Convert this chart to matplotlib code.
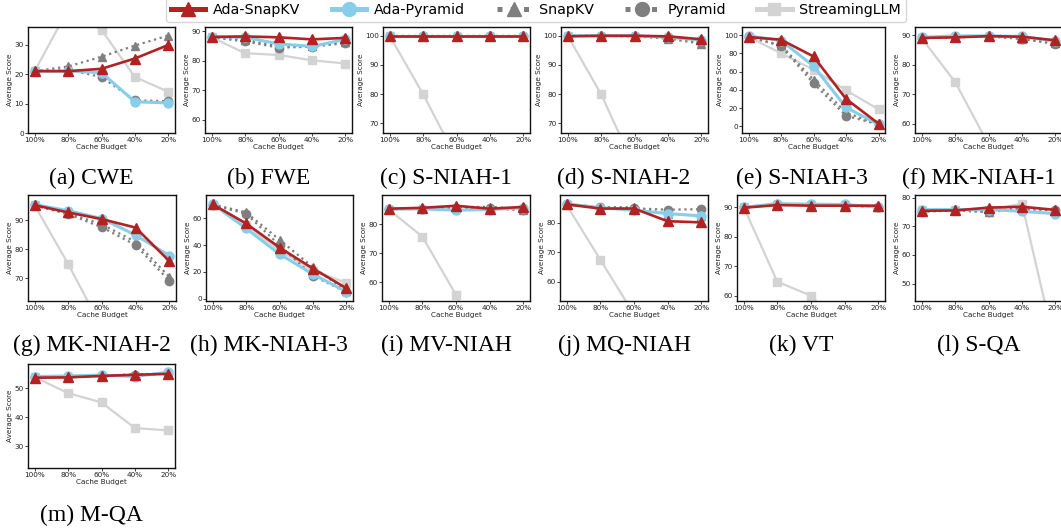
import matplotlib
matplotlib.use("Agg")
import matplotlib.pyplot as plt
from matplotlib.lines import Line2D

# cache budgets on the x axis
budgets = ["100%", "80%", "60%", "40%", "20%"]
tasks = ["(a) CWE", "(b) FWE", "(c) S-NIAH-1", "(d) S-NIAH-2", "(e) S-NIAH-3",
         "(f) MK-NIAH-1", "(g) MK-NIAH-2", "(h) MK-NIAH-3", "(i) MV-NIAH",
         "(j) MQ-NIAH", "(k) VT", "(l) S-QA", "(m) M-QA"]

# average score per task (rows follow `tasks`)
ada_snapkv = [
    [21.0, 21.0, 21.8, 25.3, 29.9],
    [88.1, 88.3, 88.0, 87.3, 87.8],
    [100, 100, 100, 100, 100],
    [99.8, 100, 100, 99.8, 98.8],
    [97.8, 94.9, 76.5, 30.0, 2.9],
    [89.1, 89.3, 89.7, 89.5, 88.3],
    [95.1, 92.6, 90.3, 87.4, 75.9],
    [70.5, 56.2, 38.2, 22.5, 7.8],
    [85.3, 85.6, 86.3, 85.3, 85.9],
    [86.3, 84.9, 84.9, 80.6, 80.2],
    [89.8, 90.7, 90.5, 90.5, 90.5],
    [75.4, 75.5, 76.5, 76.8, 75.7],
    [53.6, 53.7, 54.2, 54.6, 54.9],
]
ada_pyramid = [
    [21.0, 21.0, 20.5, 10.6, 10.2],
    [88.2, 88.0, 85.8, 84.9, 87.3],
    [100, 100, 100, 100, 100],
    [100, 100, 100, 99.5, 98.5],
    [99.0, 94.0, 66.0, 20.6, 2.0],
    [89.3, 89.8, 89.8, 89.6, 88.0],
    [95.3, 93.2, 90.5, 84.8, 77.8],
    [70.8, 52.5, 33.3, 18.3, 5.2],
    [85.2, 85.2, 84.8, 85.0, 85.6],
    [86.5, 85.2, 84.3, 83.2, 82.4],
    [89.9, 91.2, 91.0, 90.9, 90.0],
    [75.8, 75.8, 75.8, 75.2, 74.4],
    [54.0, 54.2, 54.5, 54.0, 55.5],
]
snapkv = [
    [21.0, 22.6, 25.9, 29.7, 33.1],
    [88.0, 87.2, 85.0, 85.0, 86.5],
    [100, 100, 100, 100, 100],
    [100, 100, 99.8, 99.0, 97.3],
    [98.0, 89.0, 51.0, 15.0, 2.0],
    [89.1, 89.3, 89.7, 88.8, 87.5],
    [95.0, 92.3, 88.5, 82.5, 70.5],
    [70.5, 64.5, 44.0, 23.5, 6.0],
    [85.2, 85.5, 85.7, 86.0, 85.0],
    [86.3, 85.3, 85.3, 83.0, 82.5],
    [90.0, 91.0, 90.8, 90.7, 90.0],
    [75.5, 75.5, 75.0, 76.5, 75.5],
    [53.8, 54.0, 54.2, 54.8, 55.0],
]
pyramid = [
    [21.0, 21.5, 19.0, 11.1, 10.8],
    [88.0, 86.6, 84.5, 84.8, 86.0],
    [100, 100, 100, 100, 100],
    [100, 100, 99.8, 99.3, 97.8],
    [98.0, 88.0, 47.0, 11.5, 2.0],
    [89.0, 89.3, 89.6, 88.8, 87.0],
    [95.0, 92.0, 87.5, 81.4, 69.1],
    [70.0, 63.5, 40.0, 17.0, 5.0],
    [85.1, 85.3, 85.5, 85.5, 84.7],
    [86.3, 85.5, 85.0, 84.5, 84.7],
    [90.0, 91.0, 90.8, 90.5, 90.0],
    [75.0, 75.5, 75.0, 76.0, 75.5],
    [53.8, 54.0, 54.3, 54.5, 55.0],
]
streaming = [
    [21.0, 42.0, 35.0, 19.0, 14.0],
    [88.0, 82.6, 82.0, 80.2, 79.1],
    [100, 80.0, 58.0, 40.0, 30.0],
    [100, 80.0, 55.0, 40.0, 30.0],
    [98.0, 80.0, 62.0, 39.5, 18.5],
    [89.0, 74.2, 53.0, 40.0, 30.0],
    [95.0, 74.8, 52.8, 40.0, 30.0],
    [70.0, 55.0, 36.0, 21.0, 11.8],
    [85.0, 75.7, 55.7, 30.0, 20.0],
    [86.0, 67.5, 49.0, 35.0, 25.0],
    [90.0, 64.8, 60.1, 48.0, 40.0],
    [75.5, 75.8, 75.5, 77.9, 27.6],
    [53.8, 48.3, 45.1, 36.3, 35.5],
]
yticks = [[0, 10, 20, 30], [60, 70, 80, 90], [70, 80, 90, 100], [70, 80, 90, 100],
          [0, 20, 40, 60, 80, 100], [60, 70, 80, 90], [70, 80, 90], [0, 20, 40, 60],
          [60, 70, 80], [60, 70, 80], [60, 70, 80, 90], [50, 60, 70, 80], [30, 40, 50]]
ylims = [(0, 36), (55.5, 91.5), (66.7, 103), (66.7, 103), (-7.4, 108.8), (56.9, 92.8),
         (62.2, 98.6), (-1.8, 77.5), (53.6, 90), (53.5, 89.5), (58.3, 94.1),
         (43.9, 80.9), (22.6, 58.3)]

RED = "#b22222"
BLUE = "#87ceeb"
GRAY = "#7f7f7f"
LIGHT = "#d3d3d3"

W, H = 1061, 531
fig = plt.figure(figsize=(W / 100, H / 100), dpi=100)

# axes boxes in pixels: left, right, top, bottom
rows_px = [(27, 133), (195, 301), (364, 468)]
cols_px = [[(28, 175), (205, 352), (383, 530), (561, 708), (742, 885), (915, 1062)],
           [(28, 176), (206, 353), (382, 530), (560, 708), (737, 885), (915, 1062)],
           [(28, 175)]]
cap_y = [178, 345, 515]

x = list(range(len(budgets)))
k = 0
for r, (top, bot) in enumerate(rows_px):
    for c, (l, rr) in enumerate(cols_px[r]):
        ax = fig.add_axes([l / W, 1 - bot / H, (rr - l) / W, (bot - top) / H])
        ax.plot(x, streaming[k], color=LIGHT, lw=1.6, marker="s", ms=5.5, zorder=1)
        ax.plot(x, pyramid[k], color=GRAY, lw=1.6, ls=":", marker="o", ms=6, zorder=2)
        ax.plot(x, snapkv[k], color=GRAY, lw=1.6, ls=":", marker="^", ms=6, zorder=2)
        ax.plot(x, ada_pyramid[k], color=BLUE, lw=2.2, marker="o", ms=6.5, zorder=3)
        ax.plot(x, ada_snapkv[k], color=RED, lw=1.9, marker="^", ms=6.5, zorder=4)
        ax.set_xticks(x)
        ax.set_xticklabels(budgets)
        ax.set_yticks(yticks[k])
        ax.set_ylim(*ylims[k])
        ax.set_xlim(-0.2, 4.2)
        ax.tick_params(labelsize=5.2, length=2, pad=1, width=0.6, colors="#222222")
        ax.set_xlabel("Cache Budget", fontsize=5.2, labelpad=0.5, color="#222222")
        ax.set_ylabel("Average Score", fontsize=5.2, labelpad=1, color="#222222")
        for sp in ax.spines.values():
            sp.set_linewidth(1.0)
            sp.set_color("#111111")
        fig.text((91.5 + 177.5 * c) / W, 1 - cap_y[r] / H, tasks[k],
                 ha="center", va="center", fontsize=17, family="Liberation Serif")
        k += 1

handles = [
    Line2D([], [], color=RED, lw=3.6, marker="^", ms=10),
    Line2D([], [], color=BLUE, lw=3.6, marker="o", ms=10),
    Line2D([], [], color=GRAY, lw=3.6, ls=":", marker="^", ms=10),
    Line2D([], [], color=GRAY, lw=3.6, ls=":", marker="o", ms=10),
    Line2D([], [], color=LIGHT, lw=3.6, marker="s", ms=9),
]
labels = ["Ada-SnapKV", "Ada-Pyramid", "SnapKV", "Pyramid", "StreamingLLM"]
fig.legend(handles, labels, loc="center", bbox_to_anchor=(536 / W, 1 - 10 / H),
           ncol=5, fontsize=10.3, handlelength=2.4, handletextpad=0.55,
           columnspacing=2.2, borderpad=0.35, frameon=True)

fig.savefig("out.png", dpi=100)
